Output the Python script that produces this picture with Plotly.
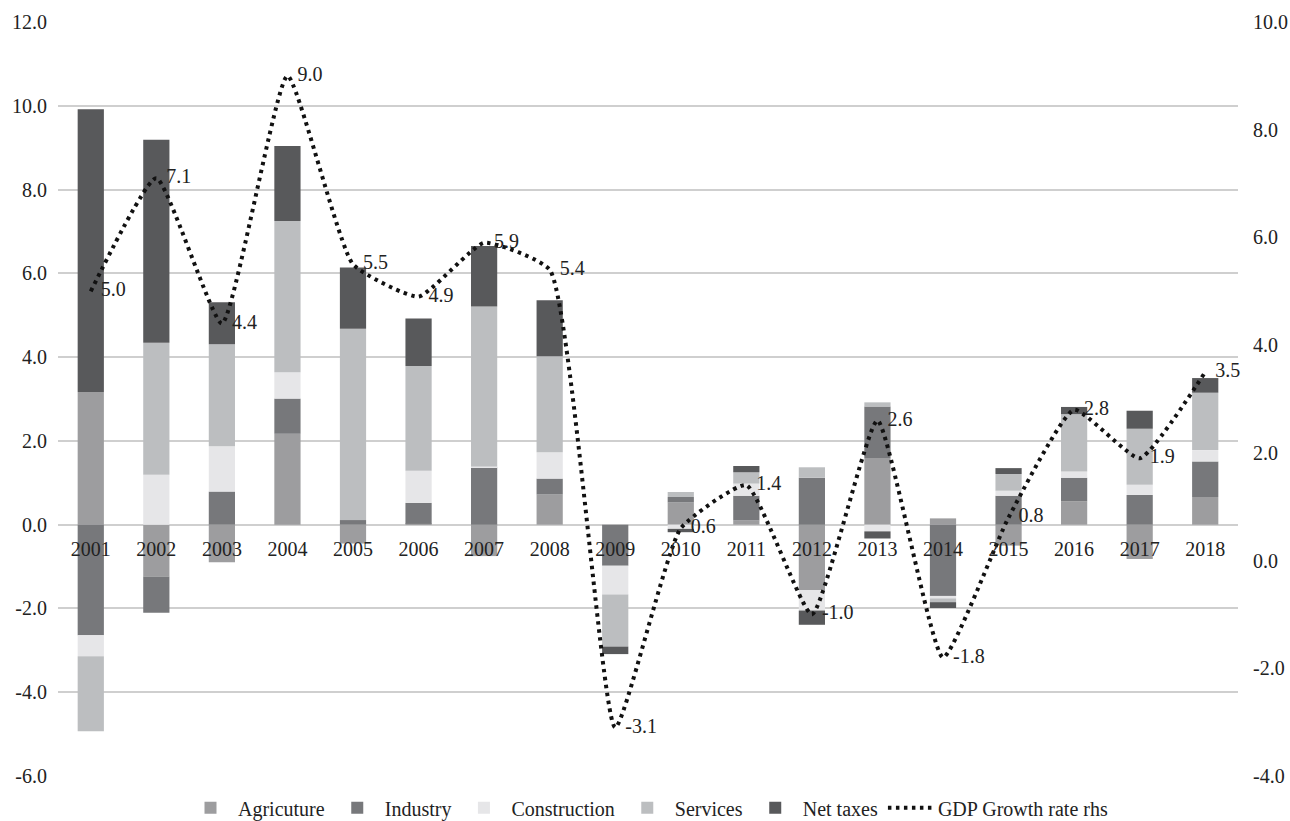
import plotly.graph_objects as go

years = [str(y) for y in range(2001, 2019)]

agriculture = [3.17, -1.24, -0.90, 2.17, -0.45, 0.02, -0.75, 0.72, 0.0, 0.53, 0.10, -1.56, 1.59, 0.15, -0.50, 0.56, -0.82, 0.66]
industry = [-2.64, -0.86, 0.79, 0.84, 0.11, 0.50, 1.37, 0.38, -0.98, 0.13, 0.59, 1.12, 1.23, -1.70, 0.69, 0.56, 0.71, 0.85]
construction = [-0.50, 1.19, 1.08, 0.63, 0.0, 0.77, 0.02, 0.63, -0.69, -0.10, 0.29, -0.49, -0.16, -0.06, 0.12, 0.15, 0.24, 0.27]
services = [-1.79, 3.15, 2.44, 3.61, 4.57, 2.50, 3.82, 2.29, -1.24, 0.12, 0.27, 0.25, 0.10, -0.09, 0.40, 1.37, 1.34, 1.37]
net_taxes = [6.75, 4.85, 1.00, 1.79, 1.46, 1.13, 1.44, 1.34, -0.18, -0.08, 0.15, -0.34, -0.17, -0.14, 0.14, 0.17, 0.43, 0.35]
gdp_growth = [5.0, 7.1, 4.4, 9.0, 5.5, 4.9, 5.9, 5.4, -3.1, 0.6, 1.4, -1.0, 2.6, -1.8, 0.8, 2.8, 1.9, 3.5]

left_ticks = [-6, -4, -2, 0, 2, 4, 6, 8, 10, 12]
left_labels = ["-6.0", "-4.0", "-2.0", "0.0", "2.0", "4.0", "6.0", "8.0", "10.0", "12.0"]
right_ticks = [-4, -2, 0, 2, 4, 6, 8, 10]
right_labels = ["-4.0", "-2.0", "0.0", "2.0", "4.0", "6.0", "8.0", "10.0"]

left_range = [-6, 12]
right_range = [-4, 10]

FONT = "Liberation Serif"
TXT = "#222222"
series = [
    ("Agricuture", agriculture, "#9d9d9f"),
    ("Industry", industry, "#77787b"),
    ("Construction", construction, "#e6e6e8"),
    ("Services", services, "#bcbec0"),
    ("Net taxes", net_taxes, "#58595b"),
]

fig = go.Figure()
for name, vals, col in series:
    fig.add_trace(go.Bar(x=years, y=vals, name=name, marker=dict(color=col, line=dict(width=0)),
                         yaxis="y"))

fig.add_trace(go.Scatter(
    x=years, y=gdp_growth, name="GDP Growth rate rhs", yaxis="y2",
    mode="lines+text",
    line=dict(color="#111111", width=4, dash="3.5px,4.5px", shape="spline", smoothing=0.45),
    text=["\u00a0\u00a0" + f"{v:.1f}" for v in gdp_growth], textposition="middle right",
    textfont=dict(family=FONT, size=20, color=TXT), cliponaxis=False,
))

zero_pos = (0 - left_range[0]) / (left_range[1] - left_range[0])

fig.update_layout(
    width=1290, height=821,
    barmode="relative", bargap=0.6,
    plot_bgcolor="white", paper_bgcolor="white",
    margin=dict(l=58, r=52, t=22, b=45, autoexpand=False),
    font=dict(family=FONT, size=20, color=TXT),
    xaxis=dict(type="category", range=[-0.5, len(years) - 0.5], anchor="free", position=zero_pos,
               showline=False, ticks="", showgrid=False, automargin=False,
               tickfont=dict(family=FONT, size=20, color=TXT), ticklabelstandoff=10),
    yaxis=dict(range=left_range, tickvals=left_ticks, ticktext=left_labels, showgrid=True,
               gridcolor="#cfcfcf", gridwidth=1.5, zeroline=False, showline=False, ticks="",
               automargin=False, ticklabelstandoff=10,
               tickfont=dict(family=FONT, size=20, color=TXT)),
    yaxis2=dict(range=right_range, tickvals=right_ticks, ticktext=right_labels, overlaying="y", side="right",
                showgrid=False, zeroline=False, showline=False, ticks="", automargin=False,
                ticklabelstandoff=14,
                tickfont=dict(family=FONT, size=20, color=TXT)),
    legend=dict(orientation="h", x=0.5, xanchor="center", yref="container", y=0.016, yanchor="middle",
                font=dict(family=FONT, size=20, color=TXT), itemwidth=45,
                traceorder="normal", bgcolor="rgba(0,0,0,0)"),
    showlegend=True,
)

fig.write_html("out.html", config={"displayModeBar": False},
               post_script="document.body.style.margin='0';document.body.style.padding='0';")
